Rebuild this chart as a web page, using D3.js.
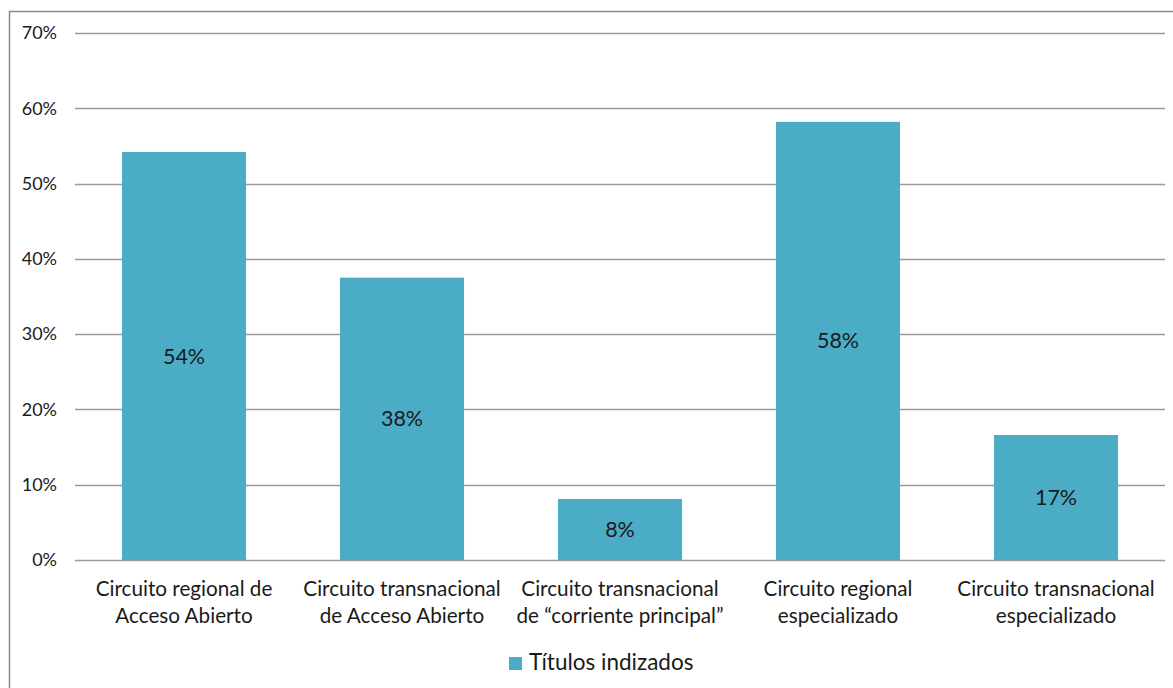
<!DOCTYPE html>
<html>
<head>
<meta charset="utf-8">
<script src="https://cdn.jsdelivr.net/npm/d3@7"></script>
<style>
html,body{margin:0;padding:0;background:#fff;}
svg{display:block;}
text{font-family:Lato, "Liberation Sans", sans-serif;fill:#1a1a1a;}
</style>
</head>
<body>
<svg id="chart" width="1173" height="688"></svg>
<script>
const categories = [
  ["Circuito regional de", "Acceso Abierto"],
  ["Circuito transnacional", "de Acceso Abierto"],
  ["Circuito transnacional", "de \u201ccorriente principal\u201d"],
  ["Circuito regional", "especializado"],
  ["Circuito transnacional", "especializado"]
];
const values = [54.2, 37.5, 8.1, 58.2, 16.6];
const seriesName = "Títulos indizados";
const yTicks = [0, 10, 20, 30, 40, 50, 60, 70];

const svg = d3.select("#chart");
const color = "#4bacc6";

// outer frame
svg.append("rect").attr("x", 9.5).attr("y", 11.5).attr("width", 1200).attr("height", 700)
  .attr("fill", "none").attr("stroke", "#8c8c8c").attr("stroke-width", 1.5);

const x = d3.scaleBand().domain(d3.range(categories.length)).range([75, 1165])
  .paddingInner(0.431).paddingOuter(0.2155);
const y = d3.scaleLinear().domain([0, 70]).range([560, 33]);

// gridlines
svg.append("g").selectAll("line").data(yTicks).join("line")
  .attr("x1", 75).attr("x2", 1165)
  .attr("y1", d => Math.round(y(d)) + 0.5).attr("y2", d => Math.round(y(d)) + 0.5)
  .attr("stroke", "#9a9a9a").attr("stroke-width", 1.3);

// y axis labels
const yAxis = d3.axisLeft(y).tickValues(yTicks).tickFormat(d => d + "%").tickSize(0).tickPadding(0);
const yg = svg.append("g").attr("transform", "translate(57,0)").call(yAxis);
yg.select(".domain").remove();
yg.selectAll("text").style("font-family", "Lato, sans-serif").style("font-size", "18px").attr("fill", "#1a1a1a");

// bars
svg.append("g").selectAll("rect").data(values).join("rect")
  .attr("x", (d, i) => x(i)).attr("width", x.bandwidth())
  .attr("y", d => y(d)).attr("height", d => y(0) - y(d))
  .attr("fill", color);

// value labels
svg.append("g").selectAll("text").data(values).join("text")
  .attr("x", (d, i) => x(i) + x.bandwidth() / 2)
  .attr("y", d => (y(d) + y(0)) / 2)
  .attr("dy", "0.35em")
  .attr("text-anchor", "middle")
  .style("font-size", "21.5px")
  .text(d => Math.round(d) + "%");

// category labels
const cg = svg.append("g");
categories.forEach((lines, i) => {
  const t = cg.append("text").attr("text-anchor", "middle").style("font-size", "20.7px");
  lines.forEach((ln, j) => {
    t.append("tspan").attr("x", x(i) + x.bandwidth() / 2).attr("y", 596 + j * 27).text(ln);
  });
});

// legend
const lg = svg.append("g");
lg.append("rect").attr("x", 509).attr("y", 657).attr("width", 13).attr("height", 13).attr("fill", color);
lg.append("text").attr("x", 529).attr("y", 670).style("font-size", "22.5px").text(seriesName);
</script>
</body>
</html>
